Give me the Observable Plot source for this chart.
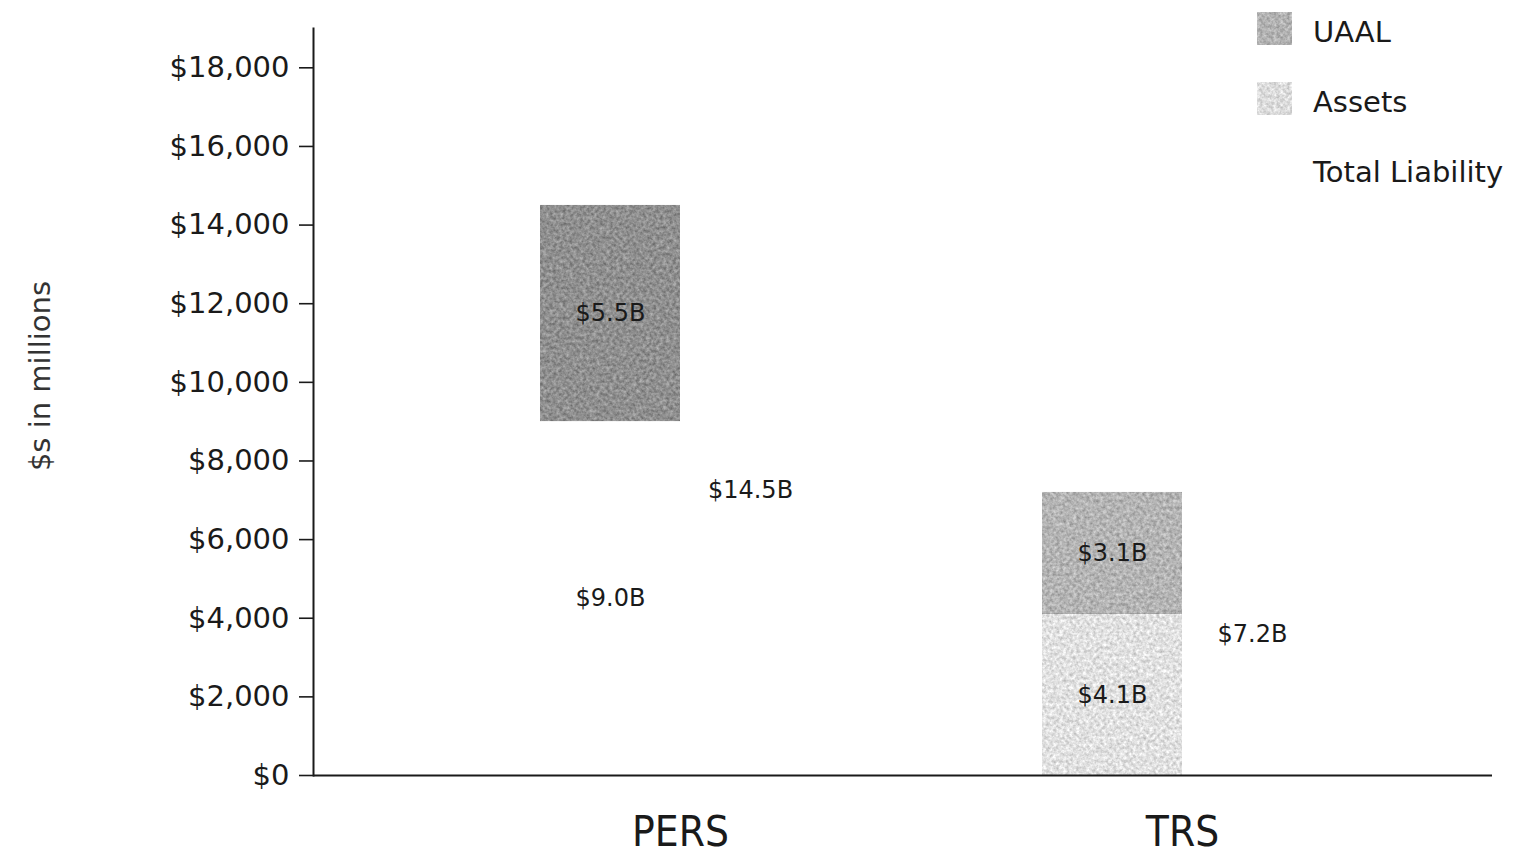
<!DOCTYPE html>
<html>
<head>
<meta charset="utf-8">
<script src="https://cdn.jsdelivr.net/npm/d3@7"></script>
<script src="https://cdn.jsdelivr.net/npm/@observablehq/plot@0.6"></script>
<style>
  html, body { margin: 0; padding: 0; background: #fff; }
  #chart { position: relative; width: 1520px; height: 857px; }
  svg { font-family: "DejaVu Sans", Verdana, sans-serif; }
</style>
</head>
<body>
<div id="chart"></div>
<script>
// Pension systems and their funding, in millions of dollars
const systems = ["PERS", "TRS"];
const assets = [9000, 4100];
const uaal = [5500, 3100];
const totalLiability = [14500, 7200];

const yTicks = [0, 2000, 4000, 6000, 8000, 10000, 12000, 14000, 16000, 18000];
const legendLabels = ["UAAL", "Assets", "Total Liability"];
const yLabel = "$s in millions";

// Fill shades per system and component
const shade = {
  PERS: { Assets: "#ffffff", UAAL: "#8f8f8f" },
  TRS: { Assets: "#e1e1e1", UAAL: "#b4b4b4" }
};
const legendFill = { "UAAL": "#b2b2b2", "Assets": "#dcdcdc", "Total Liability": "#ffffff" };

// Rows: the funding column stacks assets under the unfunded liability
const funding = systems.flatMap((s, i) => [
  { system: s, series: "Assets", value: assets[i] },
  { system: s, series: "UAAL", value: uaal[i] }
]);
const totals = systems.map((s, i) => ({ system: s, series: "Total Liability", value: totalLiability[i] }));

const billions = v => `$${(v / 1000).toFixed(1)}B`;
const ink = "#1a1a1a";

const chart = Plot.plot({
  width: 1520,
  height: 857,
  marginLeft: 313,
  marginRight: 28,
  marginTop: 28,
  marginBottom: 82,
  x: { domain: systems, paddingInner: 0.4422, paddingOuter: 0.3935, align: 0.572, axis: null },
  y: { domain: [0, 19000], axis: null },
  marks: [
    Plot.barY(funding, {
      x: "system", y: "value", z: "series",
      fill: d => shade[d.system][d.series],
      insetRight: 140,
      className: "funding-bars"
    }),
    Plot.barY(totals, { x: "system", y: "value", fill: "#ffffff", insetLeft: 140 }),
    Plot.text(funding, Plot.stackY({
      x: "system", y: "value", z: "series",
      text: d => billions(d.value),
      dx: -70, fontSize: 24, fill: ink
    })),
    Plot.text(totals, Plot.stackY({
      x: "system", y: "value",
      text: d => billions(d.value),
      dx: 70, fontSize: 24, fill: ink
    })),
    Plot.axisY({
      ticks: yTicks, tickFormat: d3.format("$,"),
      tickSize: 14, tickPadding: 10, fontSize: 29,
      label: null, color: ink, strokeWidth: 1.6
    }),
    Plot.axisX({
      tickSize: 0, tickPadding: 41, fontSize: 42,
      fontFamily: "DejaVu Sans Condensed", label: null, color: ink
    }),
    Plot.text([yLabel], {
      frameAnchor: "left", textAnchor: "middle", rotate: -90, dx: -273, dy: -26,
      fontSize: 29, fill: "#333"
    }),
    Plot.frame({ anchor: "left", stroke: ink, strokeWidth: 2 }),
    Plot.ruleY([0], { stroke: ink, strokeWidth: 2 })
  ]
});

document.getElementById("chart").appendChild(chart);

// Grain texture for the shaded bars
const svg = d3.select(chart);
const defs = svg.insert("defs", ":first-child");
const grain = defs.append("filter")
  .attr("id", "grain")
  .attr("x", 0).attr("y", 0).attr("width", 1).attr("height", 1)
  .attr("color-interpolation-filters", "sRGB");
grain.append("feTurbulence")
  .attr("type", "fractalNoise").attr("baseFrequency", 0.3)
  .attr("numOctaves", 3).attr("seed", 7).attr("result", "noise");
grain.append("feColorMatrix")
  .attr("in", "noise").attr("type", "matrix")
  .attr("values", "1 0 0 0 0  1 0 0 0 0  1 0 0 0 0  0 0 0 0 1")
  .attr("result", "gray");
grain.append("feComposite")
  .attr("in", "SourceGraphic").attr("in2", "gray")
  .attr("operator", "arithmetic")
  .attr("k1", 0).attr("k2", 1).attr("k3", 0.4).attr("k4", -0.2)
  .attr("result", "mix");
grain.append("feComposite")
  .attr("in", "mix").attr("in2", "SourceGraphic").attr("operator", "in");

svg.selectAll(".funding-bars rect")
  .filter(function () { return this.getAttribute("fill") !== "#ffffff"; })
  .attr("filter", "url(#grain)");

// Legend in the upper right corner
const legend = svg.append("g").attr("transform", "translate(1257,12)");
const rows = legend.selectAll("g").data(legendLabels).join("g")
  .attr("transform", (d, i) => `translate(0,${i * 70})`);
rows.append("rect")
  .attr("width", 35).attr("height", 33)
  .attr("fill", d => legendFill[d])
  .attr("filter", d => legendFill[d] === "#ffffff" ? null : "url(#grain)");
rows.append("text")
  .attr("x", 56).attr("y", 30)
  .attr("text-anchor", "start")
  .attr("font-size", 29).attr("fill", ink)
  .text(d => d);
</script>
</body>
</html>
